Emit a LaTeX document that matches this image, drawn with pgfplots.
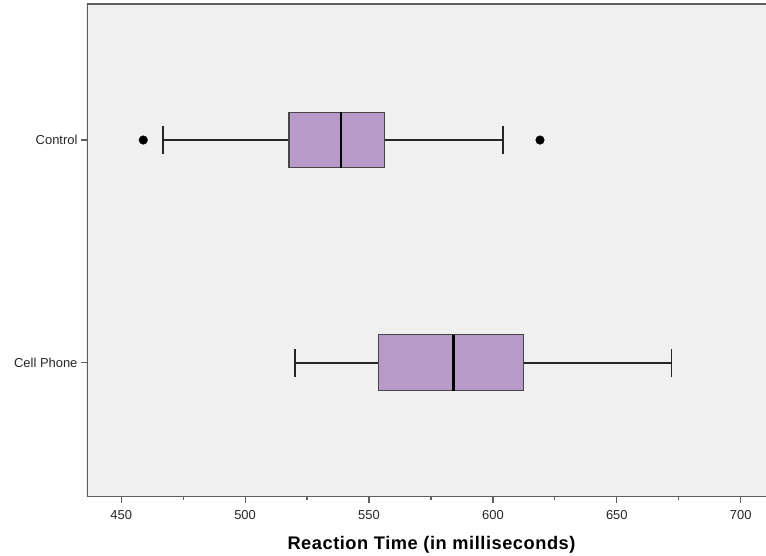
\documentclass[border=0pt]{standalone}
\usepackage{pgfplots}
\pgfplotsset{compat=1.18}
\usepgfplotslibrary{statistics}
\usepackage{fontspec}
\setmainfont{Liberation Sans}
\definecolor{bg}{RGB}{240,240,240}
\definecolor{boxfill}{RGB}{184,154,200}
\definecolor{boxedge}{RGB}{70,70,70}
\definecolor{framec}{RGB}{95,95,95}
\begin{document}
\begin{tikzpicture}
\begin{axis}[
  name=ax,
  scale only axis,
  width=679bp, height=493bp,
  xmin=436.2, xmax=710.2,
  ymin=0.397, ymax=2.611,
  axis background/.style={fill=bg},
  axis line style={draw=none},
  xtick={450,500,550,600,650,700},
  minor x tick num=1,
  ytick={1,2}, yticklabels={Cell Phone,Control},
  xtick pos=bottom, ytick pos=left,
  tick align=outside,
  major tick length=6bp, minor tick length=3bp,
  every tick/.style={framec, line width=1.2bp},
  /pgf/number format/assume math mode=true,
  xticklabel style={font=\fontsize{13}{15}\selectfont, yshift=-4bp, text=black!85},
  yticklabel style={font=\fontsize{13}{15}\selectfont, text=black!85},
  xlabel={Reaction Time (in milliseconds)},
  xlabel style={font=\fontsize{18.3}{21}\selectfont\bfseries\addfontfeature{LetterSpace=3}, at={(axis description cs:0.5,0)}, anchor=center, yshift=-48bp, xshift=5bp},
  boxplot/draw direction=x,
  boxplot/every box/.style={draw=boxedge, fill=boxfill, line width=1.2bp},
  boxplot/every whisker/.style={black!85, line width=1.6bp},
  boxplot/every median/.style={black, line width=2.8bp},
]
\addplot[black, mark=*, mark size=4.3bp, mark options={fill=black, draw=black, solid},
  boxplot prepared={draw position=2, lower whisker=466.9, lower quartile=517.7,
    median=538.7, upper quartile=556.3, upper whisker=604.0,
    box extend=0.248, whisker extend=0.126}]
  table[row sep=\\, y index=0] {data\\ 458.9\\ 619.0\\};
\addplot[black, mark=*, mark size=4.3bp, mark options={fill=black, draw=black, solid},
  boxplot prepared={draw position=1, lower whisker=520.1, lower quartile=553.9,
    median=584.0, upper quartile=612.3, upper whisker=672.1,
    box extend=0.25, whisker extend=0.126}]
  coordinates {};
\draw[framec, line width=2bp] (rel axis cs:1,1) -- (rel axis cs:0,1) -- (rel axis cs:0,0) -- (rel axis cs:1,0);
\end{axis}
\pgfresetboundingbox
\path[use as bounding box] ([xshift=-87bp,yshift=-59bp]ax.south west) rectangle ([yshift=4bp]ax.north east);
\end{tikzpicture}
\end{document}
